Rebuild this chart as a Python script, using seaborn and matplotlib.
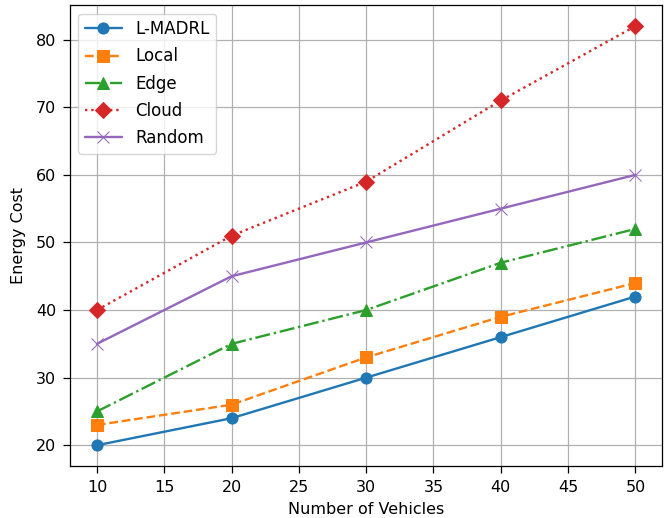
import matplotlib
matplotlib.use("Agg")
import matplotlib.pyplot as plt
import seaborn as sns
import pandas as pd

# datos
vehiculos = [10, 20, 30, 40, 50]
l_madrl = [20, 24, 30, 36, 42]
local = [23, 26, 33, 39, 44]
edge = [25, 35, 40, 47, 52]
cloud = [40, 51, 59, 71, 82]
random_ = [35, 45, 50, 55, 60]

sns.set_style("ticks")
plt.rcParams['font.family'] = ['DejaVu Sans']
plt.rcParams['axes.edgecolor'] = 'black'
plt.rcParams['xtick.color'] = 'black'
plt.rcParams['ytick.color'] = 'black'
plt.rcParams['text.color'] = 'black'
plt.rcParams['axes.labelcolor'] = 'black'

series = [
    ('L-MADRL', l_madrl, '#1f77b4', '-', 'o'),
    ('Local', local, '#ff7f0e', '--', 's'),
    ('Edge', edge, '#2ca02c', '-.', '^'),
    ('Cloud', cloud, '#d62728', ':', 'D'),
    ('Random', random_, '#9467bd', '-', 'x'),
]

fig, ax = plt.subplots(figsize=(6.67, 5.18), dpi=100)
for nombre, valores, color, estilo, marcador in series:
    df = pd.DataFrame({'x': vehiculos, 'y': valores})
    sns.lineplot(data=df, x='x', y='y', ax=ax, color=color, linestyle=estilo,
                 marker=marcador, markersize=8, linewidth=1.7, label=nombre,
                 markeredgecolor=color)

ax.set_xlabel('Number of Vehicles', fontsize=11.5, labelpad=5)
ax.set_ylabel('Energy Cost', fontsize=11.5, labelpad=7)
ax.tick_params(labelsize=11.5, width=0.9, length=5, pad=5)
for s in ax.spines.values():
    s.set_linewidth(0.9)
ax.grid(True, color='#b0b0b0', linewidth=0.9)
ax.legend(loc='upper left', fontsize=12, handlelength=2.2, labelspacing=0.55,
          framealpha=0.8)
plt.subplots_adjust(left=0.105, right=0.993, top=0.99, bottom=0.1)
plt.savefig('out.png')
